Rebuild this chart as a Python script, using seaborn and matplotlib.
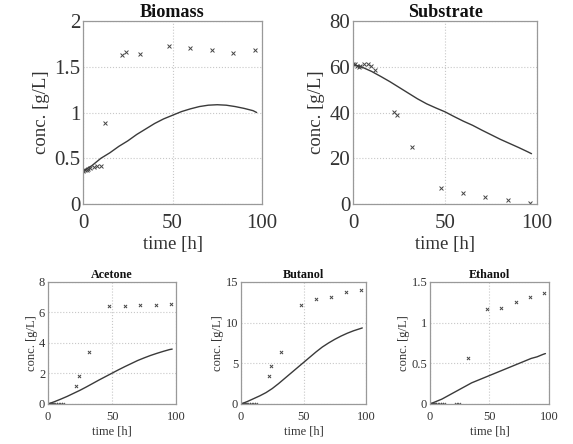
import matplotlib
matplotlib.use("Agg")
import matplotlib.pyplot as plt
from matplotlib.ticker import FuncFormatter
import seaborn as sns
import pandas as pd

# measurement times [h]
t_meas = [0, 1, 2, 3, 4, 6, 8, 10, 12, 22, 24, 32, 48, 60, 72, 84, 96]

biomass_meas = [0.36, 0.37, 0.37, 0.38, 0.39, 0.40, 0.41, 0.42, 0.88,
                1.63, 1.66, 1.64, 1.73, 1.70, 1.68, 1.65, 1.68]
substrate_meas = [61, 61, 60.5, 60, 60.5, 61, 61, 60.5, 58.5,
                  40.4, 38.9, 25, 6.8, 4.7, 2.9, 1.7, 0.3]
acetone_meas = [0, 0, 0, 0, 0, 0, 0, 0, 0,
                1.2, 1.85, 3.4, 6.4, 6.45, 6.5, 6.5, 6.55]
butanol_meas = [0, 0, 0, 0, 0, 0, 0, 0, 0,
                3.4, 4.7, 6.4, 12.2, 12.9, 13.2, 13.8, 14.0]
ethanol_meas = [0, 0, 0, 0, 0, 0, 0, 0, 0,
                0, 0, 0.57, 1.17, 1.18, 1.25, 1.31, 1.36]

# model simulation
t_model = [0, 5, 10, 15, 20, 25, 30, 35, 40, 45, 50,
           55, 60, 65, 70, 75, 80, 85, 90, 95, 97]
biomass_model = [0.36, 0.42, 0.50, 0.56, 0.63, 0.69, 0.76, 0.82, 0.88, 0.93, 0.97,
                 1.01, 1.04, 1.065, 1.08, 1.085, 1.08, 1.065, 1.045, 1.02, 1.00]
substrate_model = [61, 59.8, 58, 55.8, 53.5, 51, 48.5, 46, 43.8, 42, 40.3,
                   38.2, 36.2, 34.4, 32.3, 30.3, 28.3, 26.5, 24.7, 22.8, 22]
acetone_model = [0, 0.15, 0.32, 0.5, 0.7, 0.9, 1.12, 1.35, 1.58, 1.8, 2.02,
                 2.24, 2.45, 2.65, 2.85, 3.02, 3.18, 3.32, 3.45, 3.57, 3.6]
butanol_model = [0, 0.3, 0.65, 1.0, 1.4, 1.9, 2.5, 3.15, 3.8, 4.45, 5.1,
                 5.75, 6.4, 7.0, 7.5, 7.95, 8.35, 8.7, 9.0, 9.25, 9.35]
ethanol_model = [0, 0.03, 0.06, 0.1, 0.14, 0.18, 0.22, 0.26, 0.29, 0.32, 0.35,
                 0.38, 0.41, 0.44, 0.47, 0.5, 0.53, 0.56, 0.58, 0.61, 0.62]

meas = pd.DataFrame({"time": t_meas, "Biomass": biomass_meas, "Substrate": substrate_meas,
                     "Acetone": acetone_meas, "Butanol": butanol_meas, "Ethanol": ethanol_meas})
model = pd.DataFrame({"time": t_model, "Biomass": biomass_model, "Substrate": substrate_model,
                      "Acetone": acetone_model, "Butanol": butanol_model, "Ethanol": ethanol_model})

sns.set_theme(style="white")
plt.rcParams["font.family"] = ["Liberation Serif", "DejaVu Serif"]

fig = plt.figure(figsize=(5.73, 4.44), dpi=100)

panels = [
    # name, rect, ylim, yticks, label size, tick size, marker size, xpad, ylabelpad
    ("Biomass", [0.1449, 0.5405, 0.3124, 0.4122], 2, [0, 0.5, 1, 1.5, 2], 13.5, 15, 8, 7, 3),
    ("Substrate", [0.6161, 0.5405, 0.3211, 0.4122], 80, [0, 20, 40, 60, 80], 13.5, 15, 8, 7, 3),
    ("Acetone", [0.0838, 0.0901, 0.2234, 0.2748], 8, [0, 2, 4, 6, 8], 9, 9, 5, 5, 1),
    ("Butanol", [0.4206, 0.0901, 0.2182, 0.2748], 15, [0, 5, 10, 15], 9, 9, 5, 5, 1),
    ("Ethanol", [0.7504, 0.0901, 0.2077, 0.2748], 1.5, [0, 0.5, 1, 1.5], 9, 9, 5, 5, 1),
]

ink = "#333333"
for name, rect, ymax, yticks, fs, ts, ms, xpad, ypad in panels:
    ax = fig.add_axes(rect)
    sns.lineplot(data=model, x="time", y=name, ax=ax, color="#3a3a3a", linewidth=1.0)
    sns.scatterplot(data=meas, x="time", y=name, ax=ax, marker="x", s=ms,
                    color="#444444", linewidth=0.7)
    ax.set_xlim(0, 100)
    ax.set_ylim(0, ymax)
    ax.set_xticks([0, 50, 100])
    ax.set_yticks(yticks)
    ax.yaxis.set_major_formatter(FuncFormatter(lambda v, p: "%g" % v))
    ax.grid(True, linestyle=":", color="#c8c8c8", linewidth=0.8)
    for sp in ax.spines.values():
        sp.set_color("#999999")
        sp.set_linewidth(0.9)
    ax.tick_params(axis="both", labelsize=ts, colors=ink, direction="in",
                   length=2, color="#999999")
    ax.tick_params(axis="x", pad=xpad)
    ax.tick_params(axis="y", pad=2)
    ax.set_title(name, fontsize=fs * 0.97, fontweight="bold", color="#111111", pad=3)
    ax.set_xlabel("time [h]", fontsize=fs, color=ink, labelpad=2)
    ax.set_ylabel("conc. [g/L]", fontsize=fs, color=ink, labelpad=ypad)

fig.savefig("out.png", dpi=100)
